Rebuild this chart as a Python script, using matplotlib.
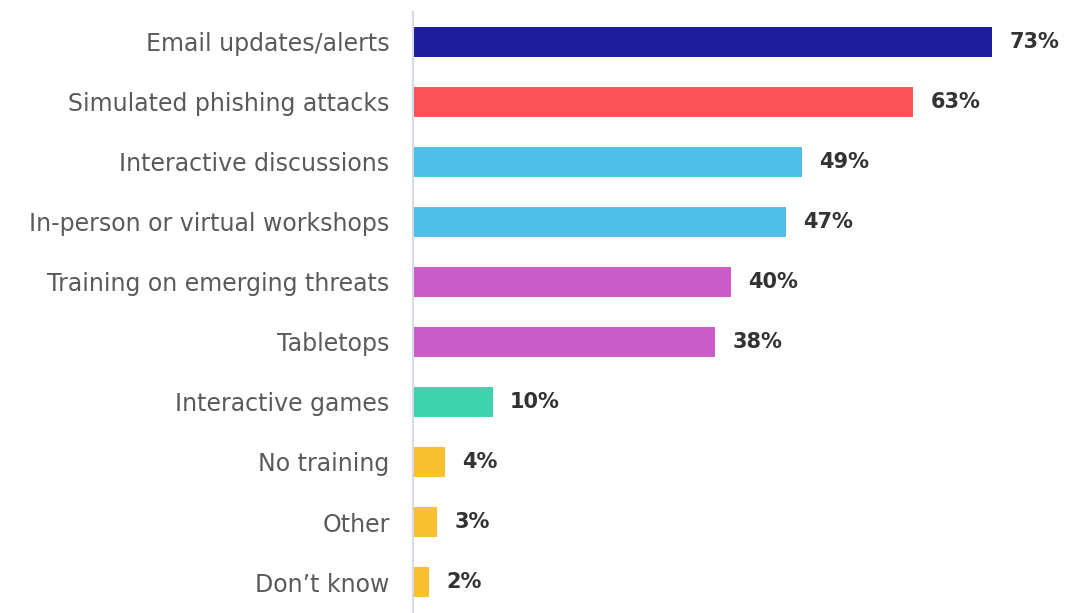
import matplotlib.pyplot as plt

categories = [
    "Email updates/alerts",
    "Simulated phishing attacks",
    "Interactive discussions",
    "In-person or virtual workshops",
    "Training on emerging threats",
    "Tabletops",
    "Interactive games",
    "No training",
    "Other",
    "Don\u2019t know",
]
values = [73, 63, 49, 47, 40, 38, 10, 4, 3, 2]
colors = [
    "#1c1c9c", "#fa5458", "#4fbfe7", "#4fbfe7", "#cb5dcb",
    "#cb5dcb", "#3ed3ad", "#f8c02e", "#f8c02e", "#f8c02e",
]

fig = plt.figure(figsize=(10.65, 6.13), dpi=100)
ax = fig.add_axes([0.388, 0.0016, 0.596, 0.979])

ypos = list(range(len(categories)))
ax.barh(ypos, values, height=0.5, color=colors)

for y, v in zip(ypos, values):
    ax.text(v + 2.2, y, f"{v}%", va="center", ha="left",
            fontsize=15, fontweight="bold", color="#333333")

ax.set_xlim(0, 80)
ax.set_ylim(len(categories) - 0.5, -0.5)
ax.set_yticks(ypos)
ax.set_yticklabels(categories, fontsize=17, color="#5a5a5a")
ax.tick_params(axis="y", length=0, pad=17)
ax.set_xticks([])

for side in ["top", "right", "bottom"]:
    ax.spines[side].set_visible(False)
ax.spines["left"].set_color("#d5dae4")
ax.spines["left"].set_linewidth(1.5)

fig.savefig("out.png", dpi=100)
